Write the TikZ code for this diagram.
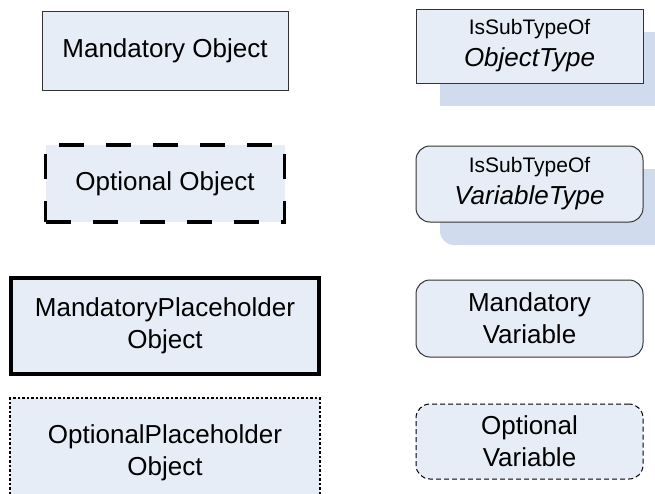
\documentclass[tikz,border=0pt]{standalone}
\usepackage{fontspec}
\setmainfont{Liberation Sans}
\usetikzlibrary{positioning, shadows}

\definecolor{boxfill}{RGB}{231,237,247}
\definecolor{shadefill}{RGB}{208,220,238}

\begin{document}
\begin{tikzpicture}[x=1pt, y=1pt, on grid,
    every node/.style={align=center, font=\fontsize{26}{32}\selectfont},
    objbox/.style={rectangle, fill=boxfill, draw=black!80, line width=1pt},
    varbox/.style={objbox, rounded corners=14pt, minimum width=227pt},
    typeshadow/.style={drop shadow={shadow xshift=24pt, shadow yshift=-23pt,
        fill=shadefill, opacity=1}}]
    \useasboundingbox (0,0) rectangle (655,-493);
    % object kinds
    \node[objbox, minimum width=246pt, minimum height=79pt] (mobj) at (165,-50.5) {Mandatory Object};
    \node[objbox, minimum width=239pt, minimum height=77pt, draw=black, line width=3.5pt,
        dash pattern=on 25pt off 22pt, dash phase=0pt] (oobj) [below=133pt of mobj] {Optional Object};
    \node[objbox, minimum width=308pt, minimum height=96pt, draw=black, line width=4pt]
        (mphobj) [below=142.5pt of oobj] {MandatoryPlaceholder\\Object};
    \node[objbox, minimum width=310pt, minimum height=110pt, draw=black, line width=2pt,
        dash pattern=on 2.5pt off 2pt] (ophobj) [below=127pt of mphobj] {OptionalPlaceholder\\Object};
    % variable kinds and type references
    \node[objbox, typeshadow, minimum width=227pt, minimum height=74pt] (otype) at (529.5,-46)
        {{\fontsize{21}{30}\selectfont IsSubTypeOf}\\\itshape ObjectType};
    \node[varbox, typeshadow, minimum height=76pt] (vtype) [below=138pt of otype]
        {{\fontsize{21}{30}\selectfont IsSubTypeOf}\\\itshape VariableType};
    \node[varbox, minimum height=77pt] (mvar) [below=134.5pt of vtype] {Mandatory\\Variable};
    \node[varbox, minimum height=75pt, draw=black, dash pattern=on 5pt off 3pt] (ovar)
        [below=123pt of mvar] {Optional\\Variable};
\end{tikzpicture}
\end{document}
